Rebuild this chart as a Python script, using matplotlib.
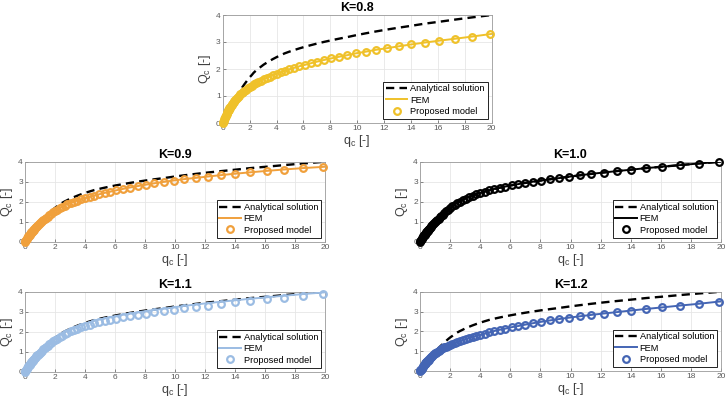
import matplotlib
matplotlib.use('Agg')
import matplotlib.pyplot as plt

plt.rcParams['font.family'] = ['Liberation Sans', 'DejaVu Sans']
plt.rcParams['mathtext.default'] = 'regular'

# ---------------- data ----------------
q_c = [0.00, 0.03, 0.06, 0.10, 0.14, 0.18, 0.22, 0.26, 0.30, 0.33,
       0.35, 0.38, 0.40, 0.43, 0.46, 0.50, 0.53, 0.57, 0.61, 0.66,
       0.71, 0.76, 0.81, 0.87, 0.93, 1.00, 1.07, 1.15, 1.23, 1.32,
       1.41, 1.51, 1.62, 1.74, 1.87, 2.00, 2.15, 2.30, 2.47, 2.64,
       2.83, 3.04, 3.26, 3.49, 3.74, 4.01, 4.30, 4.61, 4.94, 5.30,
       5.68, 6.09, 6.53, 7.00, 7.50, 8.04, 8.62, 9.24, 9.90, 10.62,
       11.38, 12.20, 13.08, 14.02, 15.03, 16.11, 17.27, 18.52, 19.85, 20.00]

analytical = [0.00, 0.04, 0.08, 0.13, 0.18, 0.23, 0.27, 0.32, 0.36, 0.39,
              0.41, 0.44, 0.46, 0.49, 0.52, 0.56, 0.59, 0.62, 0.66, 0.70,
              0.74, 0.78, 0.82, 0.87, 0.92, 0.97, 1.03, 1.09, 1.15, 1.22,
              1.29, 1.36, 1.44, 1.52, 1.61, 1.69, 1.77, 1.86, 1.94, 2.01,
              2.08, 2.16, 2.23, 2.30, 2.37, 2.44, 2.51, 2.58, 2.64, 2.70,
              2.76, 2.82, 2.88, 2.94, 3.00, 3.06, 3.12, 3.18, 3.25, 3.32,
              3.39, 3.46, 3.53, 3.60, 3.68, 3.75, 3.83, 3.91, 3.99, 4.00]

fem_k08 = [0.00, 0.04, 0.08, 0.13, 0.18, 0.23, 0.27, 0.31, 0.35, 0.38,
           0.40, 0.43, 0.45, 0.48, 0.50, 0.54, 0.56, 0.59, 0.62, 0.66,
           0.70, 0.73, 0.77, 0.81, 0.85, 0.89, 0.93, 0.97, 1.01, 1.06,
           1.10, 1.14, 1.19, 1.23, 1.28, 1.33, 1.38, 1.43, 1.48, 1.52,
           1.57, 1.62, 1.67, 1.72, 1.77, 1.83, 1.88, 1.93, 1.99, 2.04,
           2.10, 2.15, 2.21, 2.27, 2.33, 2.39, 2.45, 2.51, 2.58, 2.64,
           2.71, 2.77, 2.84, 2.91, 2.98, 3.05, 3.12, 3.20, 3.29, 3.30]

fem_k09 = [0.00, 0.04, 0.08, 0.13, 0.18, 0.23, 0.27, 0.31, 0.35, 0.38,
           0.40, 0.43, 0.45, 0.48, 0.51, 0.55, 0.58, 0.61, 0.64, 0.68,
           0.72, 0.76, 0.80, 0.84, 0.89, 0.93, 0.98, 1.03, 1.08, 1.14,
           1.20, 1.26, 1.33, 1.40, 1.47, 1.54, 1.61, 1.68, 1.75, 1.81,
           1.88, 1.94, 2.00, 2.06, 2.12, 2.18, 2.24, 2.31, 2.37, 2.44,
           2.50, 2.57, 2.64, 2.71, 2.78, 2.85, 2.92, 2.99, 3.06, 3.13,
           3.19, 3.26, 3.33, 3.40, 3.47, 3.54, 3.61, 3.68, 3.74, 3.75]

fem_k10 = [0.00, 0.04, 0.08, 0.13, 0.18, 0.23, 0.27, 0.32, 0.36, 0.39,
           0.41, 0.44, 0.46, 0.49, 0.52, 0.56, 0.59, 0.62, 0.66, 0.70,
           0.74, 0.78, 0.82, 0.87, 0.92, 0.97, 1.03, 1.09, 1.15, 1.22,
           1.29, 1.36, 1.44, 1.52, 1.61, 1.69, 1.77, 1.86, 1.94, 2.01,
           2.08, 2.16, 2.23, 2.30, 2.37, 2.44, 2.51, 2.58, 2.64, 2.70,
           2.76, 2.82, 2.88, 2.94, 3.00, 3.06, 3.12, 3.18, 3.25, 3.32,
           3.39, 3.46, 3.53, 3.60, 3.68, 3.75, 3.83, 3.91, 3.99, 4.00]

fem_k11 = [0.00, 0.04, 0.08, 0.13, 0.18, 0.23, 0.27, 0.32, 0.36, 0.39,
           0.41, 0.44, 0.46, 0.49, 0.52, 0.56, 0.59, 0.62, 0.66, 0.70,
           0.74, 0.78, 0.82, 0.87, 0.92, 0.97, 1.03, 1.08, 1.14, 1.21,
           1.28, 1.35, 1.42, 1.50, 1.58, 1.66, 1.74, 1.83, 1.91, 1.98,
           2.05, 2.13, 2.20, 2.27, 2.34, 2.41, 2.48, 2.55, 2.61, 2.67,
           2.73, 2.79, 2.85, 2.91, 2.97, 3.03, 3.09, 3.15, 3.22, 3.29,
           3.36, 3.43, 3.50, 3.57, 3.65, 3.72, 3.80, 3.88, 3.96, 3.97]

prop_k11 = [0.00, 0.04, 0.08, 0.13, 0.18, 0.23, 0.27, 0.32, 0.36, 0.39,
            0.41, 0.44, 0.46, 0.49, 0.52, 0.56, 0.59, 0.62, 0.66, 0.70,
            0.74, 0.78, 0.82, 0.86, 0.91, 0.96, 1.01, 1.06, 1.12, 1.18,
            1.24, 1.30, 1.37, 1.44, 1.52, 1.59, 1.66, 1.74, 1.81, 1.88,
            1.95, 2.02, 2.09, 2.15, 2.22, 2.28, 2.35, 2.42, 2.48, 2.54,
            2.60, 2.66, 2.72, 2.78, 2.84, 2.91, 2.97, 3.03, 3.10, 3.17,
            3.24, 3.31, 3.39, 3.47, 3.55, 3.63, 3.71, 3.79, 3.87, 3.88]

fem_k12 = [0.00, 0.03, 0.07, 0.11, 0.16, 0.20, 0.25, 0.29, 0.33, 0.36,
           0.38, 0.41, 0.43, 0.46, 0.49, 0.52, 0.55, 0.58, 0.61, 0.65,
           0.69, 0.73, 0.77, 0.81, 0.85, 0.89, 0.93, 0.97, 1.01, 1.06,
           1.10, 1.14, 1.19, 1.23, 1.27, 1.31, 1.36, 1.41, 1.46, 1.50,
           1.55, 1.60, 1.65, 1.70, 1.76, 1.82, 1.89, 1.95, 2.02, 2.08,
           2.14, 2.21, 2.27, 2.34, 2.41, 2.48, 2.55, 2.62, 2.69, 2.76,
           2.83, 2.90, 2.97, 3.05, 3.13, 3.21, 3.30, 3.39, 3.50, 3.51]

prop_k08 = fem_k08
prop_k09 = fem_k09
prop_k10 = fem_k10
prop_k12 = fem_k12

titles = ['K=0.8', 'K=0.9', 'K=1.0', 'K=1.1', 'K=1.2']
fem_series = [fem_k08, fem_k09, fem_k10, fem_k11, fem_k12]
prop_series = [prop_k08, prop_k09, prop_k10, prop_k11, prop_k12]
colors = ['#EFC12A', '#F0A03C', '#000000', '#9BBCE3', '#4465B4']
x_ticks = [0, 2, 4, 6, 8, 10, 12, 14, 16, 18, 20]
y_ticks = [0, 1, 2, 3, 4]

# ---------------- layout (pixel boxes) ----------------
W, H = 726, 401
boxes = [(222.7, 15, 491.7, 123),
         (25, 161.7, 325, 241.7),
         (420, 161.7, 721, 241.7),
         (25, 291.7, 325, 371.7),
         (420, 291.7, 721, 371.0)]

fig = plt.figure(figsize=(W / 100, H / 100), dpi=100)

for title, fem, prop, col, (x0, y0, x1, y1) in zip(titles, fem_series, prop_series, colors, boxes):
    ax = fig.add_axes([x0 / W, 1 - y1 / H, (x1 - x0) / W, (y1 - y0) / H])
    ax.plot(q_c, analytical, color='black', lw=1.7, dashes=(3.5, 2.2),
            label='Analytical solution', zorder=2)
    ax.plot(q_c, fem, color=col, lw=1.4, label='FEM', zorder=3)
    ax.plot(q_c[:-1], prop[:-1], ls='none', marker='o', ms=4.8, mfc='none',
            mec=col, mew=1.6, label='Proposed model', zorder=4, clip_on=False)
    ax.set_xlim(0, 20)
    ax.set_ylim(0, 4)
    ax.set_xticks(x_ticks)
    ax.set_yticks(y_ticks)
    ax.tick_params(labelsize=6, colors='#5a5a5a', length=2, width=0.5,
                   direction='in', pad=1.5)
    ax.grid(True, color='#e6e6e6', lw=0.6)
    ax.set_axisbelow(True)
    for s in ax.spines.values():
        s.set_color('#9a9a9a')
        s.set_linewidth(0.6)
    ax.set_title(title, fontsize=9, fontweight='bold', pad=3)
    ax.set_xlabel('$q_c$ [-]', fontsize=9, color='#404040', labelpad=1)
    ax.set_ylabel('$Q_c$ [-]', fontsize=9, color='#404040', labelpad=2)
    leg = ax.legend(loc='lower right', fontsize=6.7, frameon=True, fancybox=False,
                    edgecolor='black', framealpha=1, borderpad=0.3,
                    labelspacing=0.25, handlelength=2.3, handletextpad=0.3,
                    borderaxespad=0.45)
    leg.get_frame().set_linewidth(0.6)

fig.savefig('out.png', dpi=100)
